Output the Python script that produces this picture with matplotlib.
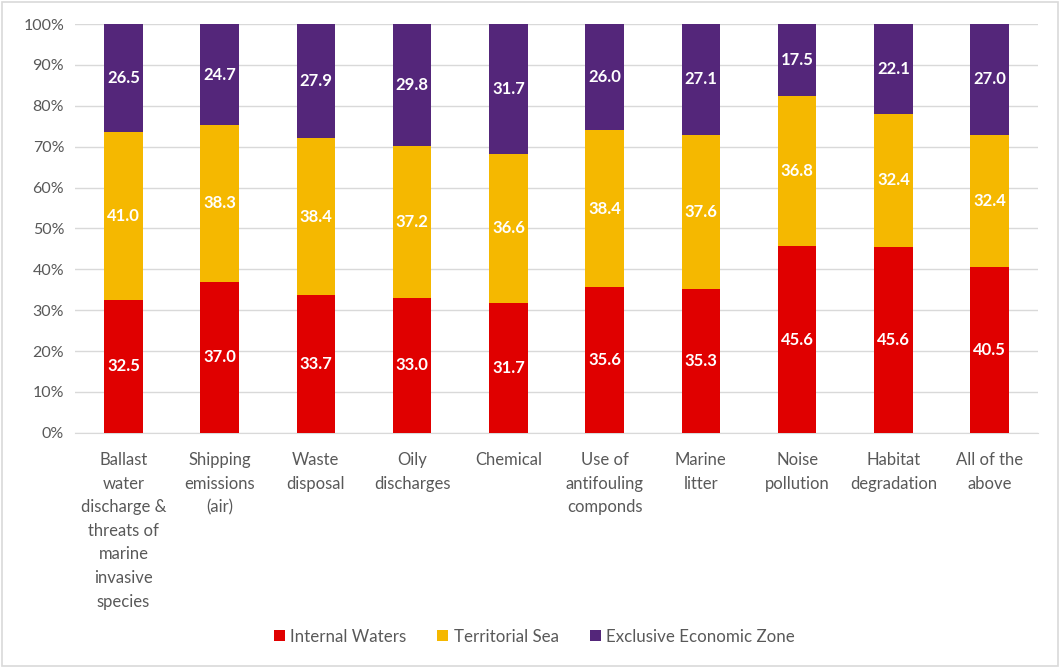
import numpy as np
import matplotlib.pyplot as plt
from matplotlib.ticker import MultipleLocator, PercentFormatter
from matplotlib.patches import Rectangle

plt.rcParams['font.family'] = ['Lato', 'DejaVu Sans']

categories = ["Ballast\nwater\ndischarge &\nthreats of\nmarine\ninvasive\nspecies",
              "Shipping\nemissions\n(air)", "Waste\ndisposal", "Oily\ndischarges",
              "Chemical", "Use of\nantifouling\ncomponds", "Marine\nlitter",
              "Noise\npollution", "Habitat\ndegradation", "All of the\nabove"]
internal = [32.5, 37.0, 33.7, 33.0, 31.7, 35.6, 35.3, 45.6, 45.6, 40.5]
territorial = [41.0, 38.3, 38.4, 37.2, 36.6, 38.4, 37.6, 36.8, 32.4, 32.4]
eez = [26.5, 24.7, 27.9, 29.8, 31.7, 26.0, 27.1, 17.5, 22.1, 27.0]

series = [("Internal Waters", internal, "#E00000"),
          ("Territorial Sea", territorial, "#F5B800"),
          ("Exclusive Economic Zone", eez, "#54267A")]

txt = "#595959"
fig = plt.figure(figsize=(10.6, 6.68), dpi=100)
ax = fig.add_axes([0.071, 0.352, 0.908, 0.612])

x = np.arange(len(categories))
total = np.array(internal) + np.array(territorial) + np.array(eez)
bottom = np.zeros(len(categories))
for name, vals, col in series:
    v = np.array(vals)
    h = v / total * 100
    ax.bar(x, h, 0.4, bottom=bottom, color=col, label=name, zorder=3)
    for xi, b, hi, lab in zip(x, bottom, h, v):
        ax.text(xi, b + hi / 2, f"{lab:.1f}", ha='center', va='center',
                color='white', fontsize=12, fontweight='bold', zorder=4)
    bottom += h

ax.set_xlim(-0.5, len(categories) - 0.5)
ax.set_ylim(0, 100)
ax.yaxis.set_major_locator(MultipleLocator(10))
ax.yaxis.set_major_formatter(PercentFormatter(decimals=0))
ax.grid(axis='y', color='#D9D9D9', linewidth=1, zorder=0)
for s in ['top', 'right', 'left']:
    ax.spines[s].set_visible(False)
ax.spines['bottom'].set_color('#D9D9D9')
ax.tick_params(length=0, labelsize=11.5, colors=txt, pad=8)
ax.tick_params(axis='x', pad=14, labelsize=12)
ax.set_xticks(x)
ax.set_xticklabels(categories, linespacing=1.58, va='top')

# legend centred on the whole figure, below the category labels
fig.legend(*ax.get_legend_handles_labels(), loc='center',
           bbox_to_anchor=(0.504, 0.047), ncol=3, frameon=False,
           fontsize=12.2, labelcolor=txt, handlelength=0.65, handleheight=0.65,
           handletextpad=0.3, columnspacing=1.85)

fig.patches.append(Rectangle((0.002, 0.003), 0.996, 0.994, transform=fig.transFigure,
                             fill=False, edgecolor='#D9D9D9', linewidth=1.2))

fig.savefig("out.png", dpi=100)
